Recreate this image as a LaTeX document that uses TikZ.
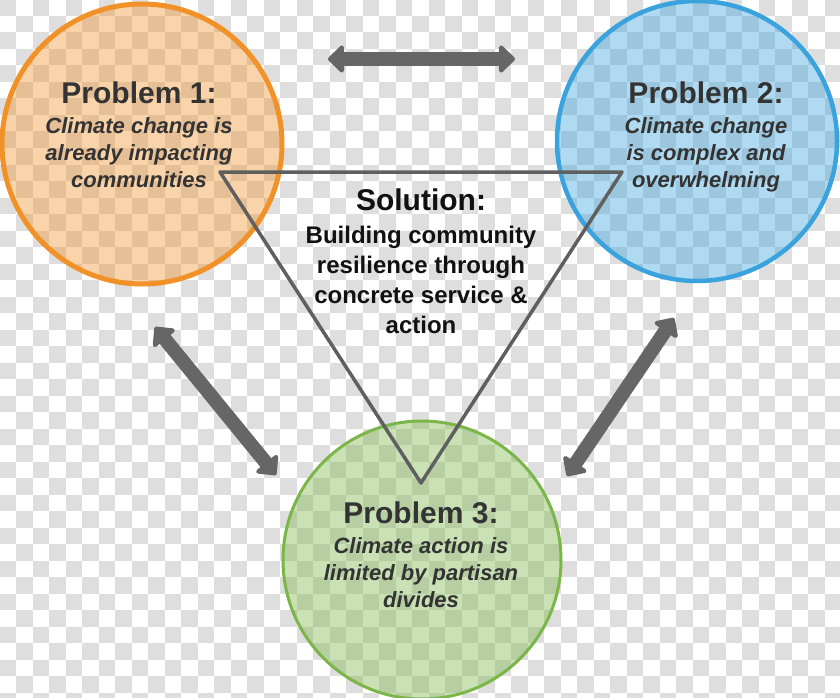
\documentclass[tikz,border=0pt]{standalone}
\usepackage{fontspec}
\setmainfont{Liberation Sans}
\usetikzlibrary{arrows.meta}
\definecolor{chk}{RGB}{222,222,222}
\definecolor{corange}{RGB}{241,146,40}
\definecolor{cblue}{RGB}{58,163,221}
\definecolor{cgreen}{RGB}{122,182,72}
\definecolor{trigray}{RGB}{95,95,95}
\definecolor{arrgray}{RGB}{102,102,102}
\definecolor{txt}{RGB}{51,51,51}
\definecolor{soltxt}{RGB}{17,17,17}
\begin{document}
\begin{tikzpicture}[x=1pt,y=-1pt,
  circ/.style={circle, inner sep=0pt, minimum size=280pt, fill opacity=0.4, draw opacity=1},
  title/.style={font=\fontsize{30}{36}\selectfont\bfseries, text=txt, inner sep=0pt, anchor=base},
  sub/.style={font=\fontsize{22}{27}\selectfont\bfseries\itshape, text=txt, align=center, inner sep=0pt, anchor=base},
  soltitle/.style={font=\fontsize{30}{36}\selectfont\bfseries, text=soltxt, inner sep=0pt, anchor=base},
  solbody/.style={font=\fontsize{24}{30}\selectfont\bfseries, text=soltxt, align=center, inner sep=0pt, anchor=base},
  tri/.style={draw=trigray, line width=3.5pt, line join=round},
  dblarrow/.style={draw=arrgray, line width=14pt, {Triangle[length=17pt,width=32pt,round]}-{Triangle[length=17pt,width=32pt,round]}}
]
\useasboundingbox (0,0) rectangle (840,698);
\clip (0,0) rectangle (840,698);
\fill[white] (0,0) rectangle (840,698);
\foreach \j in {0,...,42}
  \foreach \i in {0,2,...,50}
    \fill[chk] ({-0.5+16.5*(\i+mod(\j,2))},{-0.5+16.5*\j}) rectangle +(16.5,16.5);

% circles
\node[circ, draw=corange, fill=corange, line width=5pt] (c1) at (142,144) {};
\node[circ, draw=cblue, fill=cblue, line width=4.5pt] (c2) at (697,141) {};
\node[circ, draw=cgreen, fill=cgreen, line width=3pt, minimum size=278pt] (c3) at (422,560) {};

% triangle
\coordinate (ta) at (220,172);
\coordinate (tb) at (622,172);
\coordinate (tc) at (421,483);
\draw[tri] (ta) -- (tb) -- (tc) -- cycle;

% arrows
\coordinate (a1s) at (328,59);
\coordinate (a1e) at (515,59);
\coordinate (a2s) at (155,327);
\coordinate (a2e) at (276,475);
\coordinate (a3s) at (674,318);
\coordinate (a3e) at (567,476);
\draw[dblarrow] (a1s) -- (a1e);
\draw[dblarrow] (a2s) -- (a2e);
\draw[dblarrow] (a3s) -- (a3e);

% texts (multi-line nodes: base anchor = last line)
\node[title] (p1t) at (139,103) {Problem 1:};
\node[sub] (p1s) at (139,187) {Climate change is\\already impacting\\communities};
\node[title] (p2t) at (706,103) {Problem 2:};
\node[sub] (p2s) at (706,187) {Climate change\\is complex and\\overwhelming};
\node[title] (p3t) at (421,523) {Problem 3:};
\node[sub] (p3s) at (421,607) {Climate action is\\limited by partisan\\divides};
\node[soltitle] (st) at (421,210) {Solution:};
\node[solbody] (sb) at (421,333) {Building community\\resilience through\\concrete service \&\\action};
\end{tikzpicture}
\end{document}
